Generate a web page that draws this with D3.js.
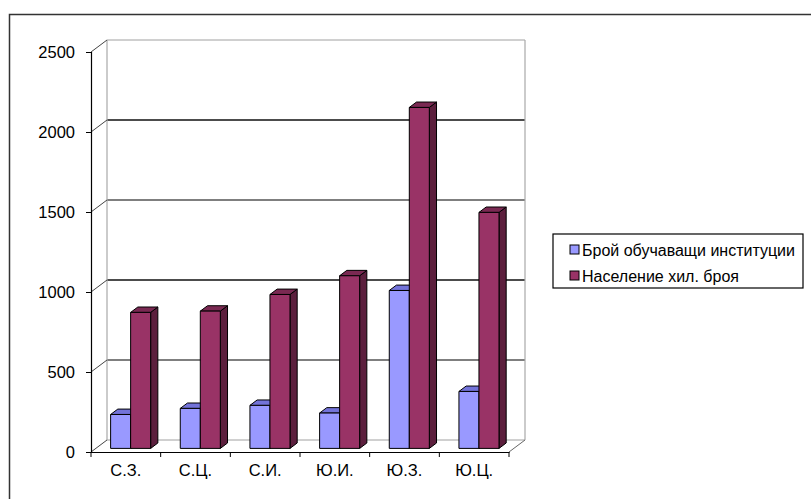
<!DOCTYPE html>
<html>
<head>
<meta charset="utf-8">
<script src="https://cdn.jsdelivr.net/npm/d3@7"></script>
<style>
  body { margin: 0; background: #fff; }
  svg { display: block; font-family: "Liberation Sans", Arial, sans-serif; }
</style>
</head>
<body>
<div id="chart"></div>
<script>
const categories = ["С.З.", "С.Ц.", "С.И.", "Ю.И.", "Ю.З.", "Ю.Ц."];
const institutions = [212, 250, 269, 221, 987, 356];
const population = [850, 858, 962, 1079, 2131, 1475];
const seriesNames = ["Брой обучаващи институции", "Население хил. броя"];
const yTicks = [0, 500, 1000, 1500, 2000, 2500];

const W = 811, H = 499;
const X0 = 91, X1 = 509, Y0 = 452, YT = 52;
const DX = 16, DY = -12; // depth of the 3d box
const f0 = 0.3, fd = 0.45; // where the bars sit in depth

const colors = [
  { front: "#9999ff", top: "#7373d9", side: "#5c5c99" },
  { front: "#993366", top: "#7a2952", side: "#5c1f3d" },
];

const svg = d3.select("#chart").append("svg").attr("width", W).attr("height", H);

// outer frame
svg.append("path")
  .attr("d", `M9.5,${H} V14.5 H${W}`)
  .attr("fill", "none")
  .attr("stroke", "#333")
  .attr("stroke-width", 1.5);

const y = d3.scaleLinear().domain([0, 2500]).range([Y0, YT]);
const x = d3.scaleBand().domain(categories).range([X0, X1]).padding(0);
const xs = d3.scaleBand().domain([0, 1]).range([0, x.step()]).paddingInner(0).paddingOuter(0.74);

const walls = svg.append("g");

// back wall gridlines
walls.selectAll("line.grid")
  .data(yTicks)
  .join("line")
  .attr("x1", X0 + DX)
  .attr("x2", X1 + DX)
  .attr("y1", (d) => y(d) + DY)
  .attr("y2", (d) => y(d) + DY)
  .attr("stroke", (d) => (d === 0 || d === 2500 ? "#a0a0a0" : d % 1000 === 0 ? "#111" : "#555"))
  .attr("stroke-width", (d) => (d === 0 || d === 2500 ? 1 : 1.4));

// back wall edges
[X0 + DX, X1 + DX].forEach(function (px) {
  walls.append("line")
    .attr("x1", px).attr("x2", px)
    .attr("y1", y(0) + DY).attr("y2", y(2500) + DY)
    .attr("stroke", "#a8a8a8").attr("stroke-width", 1.2);
});

// side wall diagonals
walls.selectAll("line.diag")
  .data(yTicks)
  .join("line")
  .attr("x1", X0).attr("y1", (d) => y(d))
  .attr("x2", X0 + DX).attr("y2", (d) => y(d) + DY)
  .attr("stroke", "#444").attr("stroke-width", 1);

// floor right diagonal
walls.append("line")
  .attr("x1", X1).attr("y1", Y0)
  .attr("x2", X1 + DX).attr("y2", Y0 + DY)
  .attr("stroke", "#666").attr("stroke-width", 1);

// bars
const bars = svg.append("g");
const series = [institutions, population];
categories.forEach(function (c, i) {
  series.forEach(function (vals, s) {
    const w = xs.bandwidth();
    const xl = x(c) + xs(s) + f0 * DX;
    const yb = Y0 + f0 * DY;
    const yt = y(vals[i]) + f0 * DY;
    const bdx = fd * DX, bdy = fd * DY;
    const col = colors[s];
    const g = bars.append("g").attr("stroke", "#000").attr("stroke-width", 1).attr("stroke-linejoin", "round");
    g.append("polygon")
      .attr("points", [[xl + w, yt], [xl + w + bdx, yt + bdy], [xl + w + bdx, yb + bdy], [xl + w, yb]].join(" "))
      .attr("fill", col.side);
    g.append("polygon")
      .attr("points", [[xl, yt], [xl + w, yt], [xl + w + bdx, yt + bdy], [xl + bdx, yt + bdy]].join(" "))
      .attr("fill", col.top);
    g.append("rect")
      .attr("x", xl).attr("y", yt)
      .attr("width", w).attr("height", yb - yt)
      .attr("fill", col.front);
  });
});

// y axis
const yAxis = svg.append("g")
  .attr("transform", `translate(${X0},0)`)
  .call(d3.axisLeft(y).tickValues(yTicks).tickSize(5).tickFormat(d3.format("d")));
yAxis.select(".domain").attr("stroke", "#000").attr("stroke-width", 1.2);
yAxis.selectAll("text")
  .attr("x", -16)
  .attr("font-size", 16.5)
  .attr("font-family", "Liberation Sans, Arial, sans-serif")
  .attr("fill", "#000");

// x axis
const xAxis = svg.append("g")
  .attr("transform", `translate(0,${Y0})`)
  .call(d3.axisBottom(x).tickSize(0).tickPadding(12));
xAxis.select(".domain").attr("stroke", "#000").attr("stroke-width", 1.2);
xAxis.selectAll("text")
  .attr("font-size", 16.5)
  .attr("font-family", "Liberation Sans, Arial, sans-serif")
  .attr("fill", "#000");
xAxis.selectAll("line.boundary")
  .data(categories.map((c) => x(c)).concat([X1]))
  .join("line")
  .attr("x1", (d) => d).attr("x2", (d) => d)
  .attr("y1", 0).attr("y2", 5)
  .attr("stroke", "#000");

// legend
const legend = svg.append("g").attr("transform", "translate(553,234)");
legend.append("rect")
  .attr("width", 250).attr("height", 54)
  .attr("fill", "#fff").attr("stroke", "#000").attr("stroke-width", 1.2);
const items = legend.selectAll("g.item")
  .data(seriesNames)
  .join("g")
  .attr("transform", (d, i) => `translate(17,${11 + i * 26})`);
items.append("rect")
  .attr("width", 9).attr("height", 9)
  .attr("fill", (d, i) => colors[i].front)
  .attr("stroke", "#000");
items.append("text")
  .attr("x", 12).attr("y", 10.5)
  .attr("font-size", 16)
  .attr("fill", "#000")
  .text((d) => d);
</script>
</body>
</html>
